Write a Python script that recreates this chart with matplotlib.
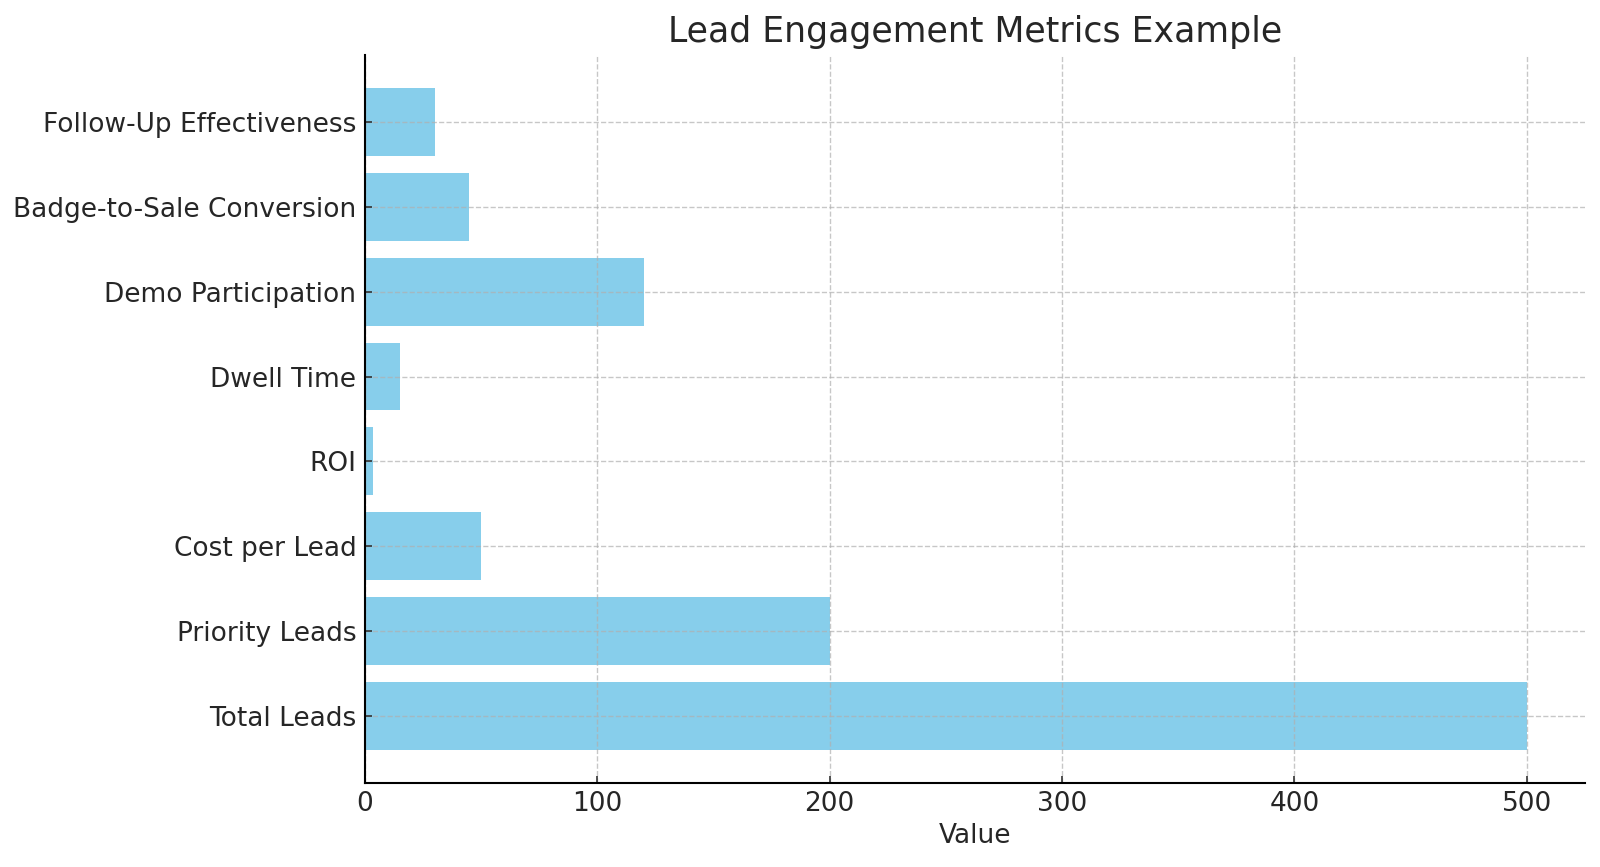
import matplotlib
matplotlib.use("Agg")
import matplotlib.pyplot as plt

metrics = ["Total Leads", "Priority Leads", "Cost per Lead", "ROI", "Dwell Time",
           "Demo Participation", "Badge-to-Sale Conversion", "Follow-Up Effectiveness"]
values = [500, 200, 50, 3.5, 15, 120, 45, 30]

plt.rcParams["font.family"] = ["DejaVu Sans"]
text_color = "#262626"

fig = plt.figure(figsize=(16, 8.67), dpi=100)
ax = fig.add_axes([0.228, 0.097, 0.7626, 0.8396])

ax.barh(metrics, values, color="skyblue", height=0.8)

ax.grid(True, linestyle="--", color="#b0b0b0", alpha=0.7, linewidth=1.0)
ax.set_axisbelow("line")
for s in ["top", "right"]:
    ax.spines[s].set_visible(False)
for s in ["left", "bottom"]:
    ax.spines[s].set_color("black")
    ax.spines[s].set_linewidth(1.5)

ax.tick_params(axis="both", direction="in", length=5, width=1.2, pad=6,
               colors="#333333", labelcolor=text_color, labelsize=19)
ax.set_xlabel("Value", fontsize=19, color=text_color)
ax.set_title("Lead Engagement Metrics Example", fontsize=25, color=text_color, pad=9)

fig.savefig("out.png", dpi=100)
